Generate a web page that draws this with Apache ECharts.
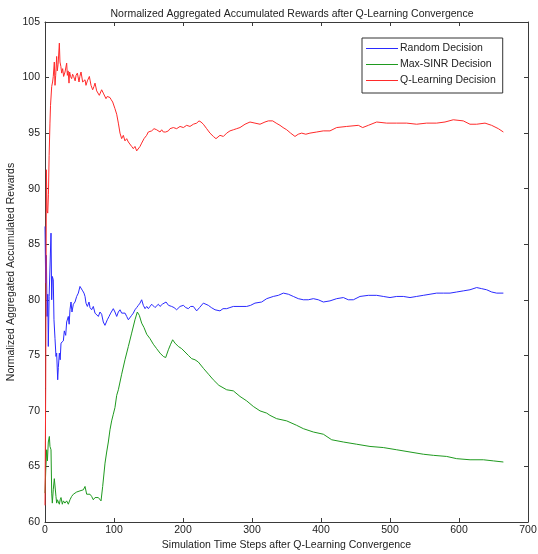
<!DOCTYPE html>
<html>
<head>
<meta charset="utf-8">
<script src="https://cdn.jsdelivr.net/npm/echarts@6/dist/echarts.min.js"></script>
<style>
html,body{margin:0;padding:0;background:#fff;}
#chart{width:538px;height:554px;}
</style>
</head>
<body>
<div id="chart"></div>
<script>
var titleText = "Normalized Aggregated Accumulated Rewards after Q-Learning Convergence";
var xAxisTitle = "Simulation Time Steps after Q-Learning Convergence";
var yAxisTitle = "Normalized Aggregated Accumulated Rewards";
var seriesNames = ["Random Decision", "Max-SINR Decision", "Q-Learning Decision"];
var xTicks = [0, 100, 200, 300, 400, 500, 600, 700];
var yTicks = [60, 65, 70, 75, 80, 85, 90, 95, 100, 105];

var randomPoints = [[0,86.6],[1,81.5],[2,84.0],[3,78.5],[4,80.5],[4.8,75.8],[6,80.3],[7,82.5],[8.7,86.0],[9.7,80.0],[10.6,82.1],[12,81.8],[13,78.2],[14.5,76.5],[15.9,74.9],[16.9,75.2],[18.4,72.8],[19.3,73.9],[20.8,75.2],[22,74.6],[23.2,76.1],[25.1,76.0],[26.6,76.3],[28,77.2],[30,76.8],[31.4,78.0],[33.8,78.5],[35,77.8],[36.2,79.1],[37.7,79.8],[39.1,78.9],[41.1,79.6],[43.5,79.8],[45.9,80.3],[48.3,80.6],[50.7,81.2],[53.1,81.2],[54.6,80.8],[56.5,80.6],[58,80.3],[59.4,79.7],[61.4,79.4],[63.8,79.8],[65.2,79.3],[67.6,79.1],[70,79.4],[72.5,78.8],[74.9,78.9],[77.3,78.5],[79.7,78.9],[82.1,78.7],[84.5,78.0],[86.9,77.7],[88.4,77.6],[90.3,78.2],[92.8,78.5],[95.2,78.8],[97.2,78.9],[99,79.2],[101.4,78.9],[103.9,78.5],[106.3,78.9],[108.7,79.1],[111.1,78.8],[113.5,78.9],[116,78.8],[118.4,78.5],[120.8,78.2],[123.2,78.3],[125.6,78.6],[128,78.8],[130.4,79.1],[132.9,79.3],[135.3,79.5],[137.7,79.7],[140.1,80.0],[142.5,79.5],[145,79.2],[147.4,79.4],[149.8,79.2],[152.2,79.4],[154.6,79.6],[157,79.5],[159.4,79.3],[161.8,79.4],[164.3,79.6],[166.7,79.4],[170,79.6],[175.4,79.8],[179,79.5],[183.6,79.4],[187,79.3],[190.8,79.1],[195.7,79.4],[200.5,79.5],[204,79.3],[207.7,79.2],[211,79.4],[215,79.4],[219.8,79.0],[224,79.3],[229.5,79.7],[236.7,79.5],[241,79.3],[246.4,79.1],[253.6,79.0],[258,79.2],[263.3,79.2],[268,79.3],[273,79.4],[282.6,79.4],[292.3,79.4],[298,79.5],[304.3,79.7],[314,79.8],[321.3,80.1],[330.9,80.3],[338.2,80.4],[345.4,80.6],[352.7,80.5],[359.9,80.3],[367.1,80.1],[374.4,80.0],[381.6,80.0],[388.9,80.1],[396.1,80.0],[403.4,79.8],[413,79.9],[422.7,80.1],[432.4,80.2],[439.6,80.0],[446.9,80.0],[456.5,80.3],[468.6,80.4],[480.7,80.4],[490.3,80.3],[500,80.2],[509.7,80.3],[519.3,80.3],[529,80.2],[538.6,80.3],[548.3,80.4],[558,80.5],[567.6,80.6],[577.3,80.6],[587,80.6],[596.6,80.7],[606.2,80.8],[615.9,80.9],[625.6,81.1],[632.9,81.0],[640.1,80.9],[647.4,80.7],[654.6,80.6],[664.3,80.6]];

var maxSinrPoints = [[0,62.6],[1,64.5],[2.4,66.5],[3.5,65.5],[4.8,67.2],[6.3,67.7],[7.2,66.8],[8.7,66.5],[9.7,62.6],[10.6,61.7],[12,62.9],[13.5,63.9],[14.5,63.8],[15.9,62.3],[16.9,61.7],[18,62.0],[19.3,61.9],[20.8,61.6],[22,62.0],[23.2,62.2],[25.1,61.6],[26.6,61.9],[28.9,61.7],[31.4,61.9],[33.8,61.6],[36.2,62.0],[38.6,62.3],[41.1,62.5],[43.5,62.6],[45.9,62.7],[48.3,62.8],[50.7,62.8],[53.1,62.9],[55.6,62.9],[58,63.2],[60.4,62.5],[62.8,62.4],[65.2,62.5],[67.6,62.3],[70,62.0],[72.5,62.2],[74.9,62.3],[77.3,62.2],[79.7,62.2],[81.2,61.9],[83.6,63.2],[87,65.3],[89.4,66.3],[91.8,67.2],[94.2,68.3],[96.6,69.1],[99,69.7],[101.4,70.3],[103.9,71.4],[106.3,71.9],[108.7,72.6],[111.1,73.3],[115.9,74.6],[120.8,75.8],[125.6,77.0],[130.4,78.2],[133.8,78.9],[136.7,78.6],[140.1,77.9],[143.5,77.5],[147.4,76.9],[152.2,76.5],[157,76.0],[161.8,75.6],[166.7,75.2],[171.5,74.9],[174.9,74.8],[178.8,75.5],[182.1,76.0],[185,76.4],[188.4,76.1],[193.2,75.8],[198.1,75.6],[202.9,75.3],[207.7,75.0],[212.6,74.7],[217.4,74.6],[222.2,74.4],[230,73.8],[237,73.3],[243.9,72.8],[252,72.3],[263.3,71.9],[273,71.8],[282.6,71.3],[292.3,70.9],[301.9,70.4],[311.6,70.0],[321.3,69.8],[326,69.6],[335.7,69.3],[350.3,69.1],[364.7,68.7],[374.4,68.4],[388.9,68.1],[403.4,67.9],[415.5,67.4],[432.4,67.2],[451.7,67.0],[471,66.8],[490.3,66.7],[509.7,66.5],[529,66.3],[548.3,66.1],[562.8,66.0],[582.1,65.9],[596.6,65.7],[616,65.6],[635.3,65.6],[649.8,65.5],[664.3,65.4]];

var qLearningPoints = [[0,61.5],[1,72],[2,91.7],[3,88],[4,87.8],[5,89.5],[6,93],[7.2,95.9],[8,97.5],[9.7,99.2],[11,99.6],[12,100.1],[13.5,101.4],[14.5,99.3],[15.5,100.2],[16.9,101.9],[17.8,100.6],[19,101.2],[20.8,103.1],[21.7,101.4],[23,101.0],[24.2,100.4],[25.6,100.8],[27,100.1],[29,100.5],[31.4,101.3],[32.4,100.2],[33.5,100.6],[34.8,99.5],[35.7,100.5],[37,100.1],[38.6,99.9],[40,100.3],[41.5,100.1],[43.7,99.7],[45,100.2],[46.9,100.4],[49.3,99.6],[50.5,100.1],[52.2,100.5],[54.6,99.6],[56.5,99.5],[58,99.8],[59.4,99.3],[61.4,99.7],[64.3,100.1],[65.5,99.7],[66.7,99.3],[69.1,98.9],[71,99.2],[72.5,99.5],[74.9,98.8],[76.5,98.9],[78.7,98.4],[80.5,98.5],[82.1,98.9],[84.5,98.6],[86.5,98.5],[88.4,98.1],[90.3,98.3],[94.2,98.2],[96,98.0],[98.1,97.8],[101.4,97.2],[103.9,96.7],[106.3,95.9],[108.7,95.0],[111.1,94.5],[113.5,94.8],[115.9,94.3],[118.4,94.5],[120.8,94.2],[123.2,94.1],[125.6,93.8],[128,93.6],[130.4,93.8],[132.9,93.4],[135.3,93.5],[137.7,93.8],[140.1,94.1],[143.5,94.5],[147.3,94.8],[149.7,95.1],[152.2,95.0],[154.6,95.2],[158,95.4],[161.8,95.3],[164.3,95.3],[166.7,95.1],[169.1,95.3],[171.5,95.1],[174.9,95.1],[178.8,95.2],[181.2,95.4],[183.6,95.3],[186,95.5],[190.8,95.4],[195.7,95.6],[200.5,95.5],[205.3,95.7],[210.1,95.6],[215,95.8],[219.8,95.9],[223.2,96.1],[226.1,96.0],[229.5,95.8],[234.3,95.4],[239.1,95.0],[244,94.7],[247.8,94.5],[253.6,94.8],[258.5,94.7],[263.3,95.0],[268.1,95.2],[273,95.3],[277.8,95.4],[282.6,95.5],[289.9,95.8],[297.1,96.0],[304.3,95.9],[311.6,95.8],[318.8,96.0],[323.7,96.1],[330,96.1],[335,95.9],[340.6,95.7],[345,95.5],[350.3,95.3],[356,95.0],[362.3,94.7],[367,94.9],[372,95.0],[378,94.9],[384,95.0],[393.8,95.1],[403.3,95.2],[413,95.2],[422.7,95.5],[437.2,95.6],[454.1,95.7],[460.4,95.5],[468.6,95.7],[480.7,96.0],[495.2,95.9],[509.7,95.9],[524.2,95.9],[538.6,95.8],[553.1,95.9],[567.6,95.9],[579.7,96.0],[591.7,96.2],[606.2,96.1],[615.9,95.8],[625.6,95.8],[637.7,95.9],[647.3,95.7],[657,95.4],[664.3,95.1]];

var seriesColors = ["#2a2aff", "#1f9a1f", "#ff2a2a"];
var FONT = "Liberation Sans, Arial, sans-serif";
var FS = 10.5;
var axisColor = "#3a3a3a";
var textColor = "#222";

var chart = echarts.init(document.getElementById("chart"), null, {renderer: "canvas"});

function axisBase(extra) {
  var base = {
    type: "value",
    axisLine: {show: true, onZero: false, lineStyle: {color: axisColor, width: 1}},
    axisTick: {show: true, inside: true, length: 4, lineStyle: {color: axisColor}},
    splitLine: {show: false},
    axisLabel: {show: true, color: textColor, fontFamily: FONT, fontSize: FS}
  };
  for (var k in extra) base[k] = extra[k];
  return base;
}

var option = {
  backgroundColor: "#ffffff",
  animation: false,
  title: {
    text: titleText,
    left: 287,
    textAlign: "center",
    top: 4,
    textStyle: {fontFamily: FONT, fontSize: FS, fontWeight: "normal", color: textColor}
  },
  legend: {
    orient: "vertical",
    left: 362,
    top: 38,
    icon: "rect",
    itemWidth: 32,
    itemHeight: 1,
    itemGap: 3,
    borderColor: "#333",
    borderWidth: 1,
    padding: [4, 7, 6, 4],
    backgroundColor: "#fff",
    textStyle: {fontFamily: FONT, fontSize: FS, color: textColor, lineHeight: 13, padding: [0, 0, 0, -3]},
    data: seriesNames
  },
  grid: {left: 45, top: 22, width: 483, height: 500, containLabel: false, outerBoundsMode: "none"},
  xAxis: [
    axisBase({
      position: "bottom", min: xTicks[0], max: xTicks[xTicks.length - 1], interval: 100,
      name: xAxisTitle, nameLocation: "middle", nameGap: 18, nameMoveOverlap: false,
      nameTextStyle: {fontFamily: FONT, fontSize: FS, color: textColor},
      axisLabel: {show: true, color: textColor, fontFamily: FONT, fontSize: FS, margin: 3}
    }),
    axisBase({
      position: "top", min: xTicks[0], max: xTicks[xTicks.length - 1], interval: 100,
      axisLabel: {show: false}
    })
  ],
  yAxis: [
    axisBase({
      position: "left", min: yTicks[0], max: yTicks[yTicks.length - 1], interval: 5,
      name: yAxisTitle, nameLocation: "middle", nameGap: 28, nameRotate: 90, nameMoveOverlap: false,
      nameTextStyle: {fontFamily: FONT, fontSize: FS, color: textColor},
      axisLabel: {show: true, color: textColor, fontFamily: FONT, fontSize: FS, margin: 5}
    }),
    axisBase({
      position: "right", min: yTicks[0], max: yTicks[yTicks.length - 1], interval: 5,
      axisLabel: {show: false}
    })
  ],
  series: [
    {name: seriesNames[0], type: "line", data: randomPoints, showSymbol: false, symbol: "none",
     lineStyle: {color: seriesColors[0], width: 1}, itemStyle: {color: seriesColors[0]}, z: 2},
    {name: seriesNames[1], type: "line", data: maxSinrPoints, showSymbol: false, symbol: "none",
     lineStyle: {color: seriesColors[1], width: 1}, itemStyle: {color: seriesColors[1]}, z: 3},
    {name: seriesNames[2], type: "line", data: qLearningPoints, showSymbol: false, symbol: "none",
     lineStyle: {color: seriesColors[2], width: 1}, itemStyle: {color: seriesColors[2]}, z: 4}
  ]
};
chart.setOption(option);
</script>
</body>
</html>
